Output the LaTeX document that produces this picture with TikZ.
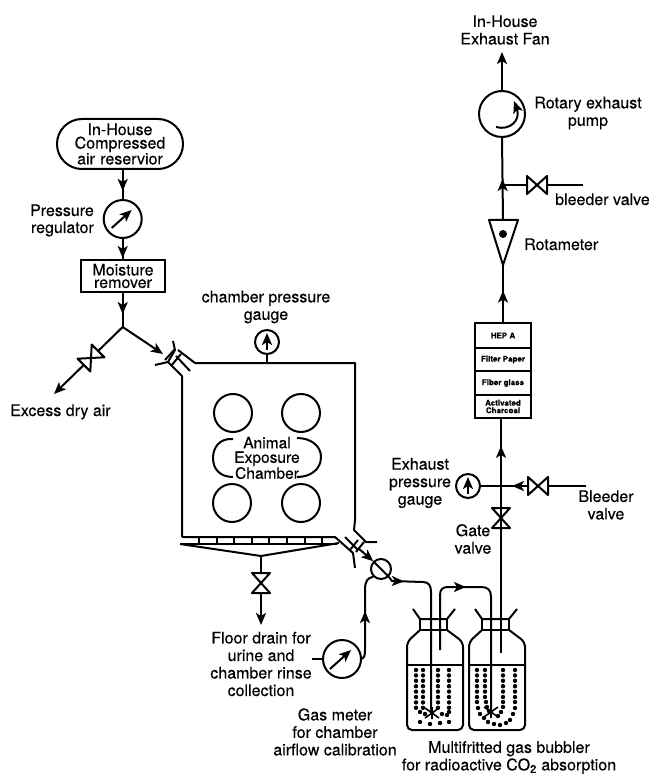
\documentclass[tikz,border=0pt]{standalone}
\usepackage{fontspec}
\setmainfont{TeX Gyre Heros}[FakeBold=0.25]
\usetikzlibrary{arrows.meta,shapes.misc,decorations.markings}
\tikzset{
  x=1pt,y=-1pt,
  pipe/.style={line width=2pt,line join=round},
  thin pipe/.style={line width=1.6pt,line join=round},
  tip/.style={-{Stealth[length=12pt,width=10pt,inset=3pt]}},
  midarrow/.style={postaction={decorate},decoration={markings,mark=at position #1 with {\arrow{Stealth[length=12pt,width=10pt,inset=3pt]}}}},
  lbl/.style={inner sep=0pt,align=center,font=\fontsize{16}{17.5}\selectfont},
  gauge/.style={circle,draw,line width=2pt,fill=white,inner sep=0pt,minimum size=#1},
  filt/.style={rectangle,draw,line width=2.3pt,fill=white,inner sep=0pt,minimum width=56pt,align=center,font=\fontsize{8}{7.5}\selectfont\bfseries},
  dotm/.style={fill=black,draw=none}
}
\newcommand{\vlv}[4]{\coordinate (#4) at (#1,#2);
  \begin{scope}[shift={(#1,#2)},rotate=#3]
  \draw[pipe,fill=white] (-10,-9)--(10,9)--(10,-9)--(-10,9)--cycle;
  \end{scope}}
\newcommand{\bottle}[1]{\begin{scope}[shift={(#1,0)}]
  \draw[pipe] (413,609)--(420,619)--(447,619)--(455,609);
  \draw[pipe] (420,619)--(420,630)--(447,630)--(447,619);
  \draw[pipe,rounded corners=5pt] (420,630)--(407,642)--(407,730)--(463,730)--(463,642)--(447,630);
  \draw[pipe] (407,665)--(463,665);
  \end{scope}}
\newcommand{\sprk}[2]{\draw[thin pipe] (#1-7,#2-5)--(#1+7,#2+5) (#1-7,#2+5)--(#1+7,#2-5) (#1,#2-6)--(#1,#2+6);}
\begin{document}
\begin{tikzpicture}
\useasboundingbox (0,0) rectangle (649,775);
% left feed
\node[rounded rectangle,draw,line width=2pt,minimum width=126pt,minimum height=50pt,inner sep=0pt,text width=100pt,align=center,font=\fontsize{16}{13.5}\selectfont] (res) at (120,144) {In-House\\Compressed\\air reservior};
\node[gauge=38pt] (reg) at (122.7,219) {};
\node[rectangle,draw,line width=2pt,minimum width=84pt,minimum height=32pt,inner sep=0pt,align=center,font=\fontsize{16}{12.5}\selectfont] (moist) at (123,276) {Moisture\\remover};
\coordinate (junc) at (122.7,327);
\draw[pipe,midarrow=0.72] (reg.north |- res.south) -- (reg.north);
\draw[pipe,tip] ([shift={(-11,9)}]reg.center) -- ([shift={(9,-9)}]reg.center);
\draw[pipe,midarrow=0.95] (reg.south) -- (reg.south |- moist.north);
\draw[pipe,midarrow=0.62] (reg.south |- moist.south) -- (junc);
\coordinate (xs) at (54,394);
\draw[pipe,tip] (junc) -- (xs);
\vlv{91}{358}{45}{xv}
\coordinate (cpl) at (163,354);
\draw[pipe,tip] (junc) -- (cpl);
\node[lbl,anchor=base east] (preg) at (94,216) {Pressure};
\node[lbl,anchor=base east] (preg2) at (94,233) {regulator};
\node[lbl,anchor=base west] (exc) at (10,416) {Excess dry air};
% chamber
\draw[pipe] (173,341)--(175,350)--(168,362)--(155,365);
\draw[pipe] (178,350)--(195,363)--(355,363)--(355,520)--(354,530)--(366,542)--(377,542);
\draw[pipe] (168,362)--(182,376)--(182,537);
\draw[pipe] (176,356)--(190,371);
\draw[pipe] (181,354)--(171,366) (175,349)--(165,360);
\node[gauge=24pt] (cpg) at (267,342) {};
\draw[pipe] (cpg.south) -- (cpg.south |- 0,363);
\draw[pipe,tip] ([yshift=-8pt]cpg.center) -- ([yshift=9pt]cpg.center);
\node[lbl] (cpgl) at (266,307) {chamber pressure\\gauge};
\foreach \n/\a/\b in {c1/233/413,c2/301/413,c3/232/503,c4/301/503}
  \node[gauge=38pt,fill=none] (\n) at (\a,\b) {};
\draw[pipe] (233,439) .. controls (220,438) and (213,447) .. (213,458) .. controls (213,469) and (220,477) .. (233,477);
\draw[pipe] (297,438) .. controls (311,438) and (321,446) .. (321,457) .. controls (321,469) and (311,477) .. (297,477);
\node[lbl,font=\fontsize{15.5}{14.5}\selectfont] (anim) at (267,458) {Animal\\Exposure\\Chamber};
% floor
\draw[pipe] (182,537)--(335,537)--(353,553)--(355,568);
\draw[pipe] (180,544)--(337,544);
\foreach \t in {199,217,234,252,269,287,305,322} \draw[thin pipe] (\t,537)--(\t,544);
\coordinate (fun) at (261,556);
\draw[pipe] (180,544)--(fun)--(339,543);
\draw[pipe,tip] (fun) -- (261,625);
\vlv{261}{583}{90}{fv}
\node[lbl] (fl) at (261,664) {Floor drain for\\urine and\\chamber rinse\\collection};
% outlet coupling
\draw[pipe] (345,537)--(358,550);
\draw[pipe] (358,540)--(350,550) (364,542)--(356,552);
\node[gauge=20pt,fill=white] (mix) at (381,569) {};
\draw[pipe,tip] (358,548) -- (mix.north west);
\draw[pipe] (mix.north west) -- (mix.south east);
\draw[pipe,midarrow=0.1] (mix.south east) -- (392,581) -- (423,582) .. controls (429,582) and (431,586) .. (431,592) -- (431,713);
\draw[pipe,midarrow=0.37] (440,650) -- (440,595) .. controls (440,589) and (443,587) .. (448,587) -- (481,587) .. controls (488,587) and (491,590) .. (491,597) -- (491,712);
% gas meter
\node[gauge=38pt] (gm) at (342,659) {};
\coordinate (gmstub) at (312,659);
\draw[pipe] (gmstub) -- (gm.west);
\draw[pipe,tip] ([shift={(-12,10)}]gm.center) -- ([shift={(9,-9)}]gm.center);
\draw[pipe,midarrow=0.56] (gm.east) .. controls (364,658) and (365,656) .. (365,650) -- (365,590) .. controls (365,580) and (368,578) .. (mix.south west);
\node[lbl] (gml) at (335,732) {Gas meter\\for chamber\\airflow calibration};
% bottles
\bottle{0}
\bottle{62}
\foreach \c in {416,423,438,449} \foreach \r in {670,675.4,...,708} \fill[dotm] (\c,\r) circle (2.2);
\foreach \p/\q in {420/722,430/724,440/723,449/722,420/712,425/714,442/714,447/715,449/712} \fill[dotm] (\p,\q) circle (2.2);
\foreach \c in {477,485,503,515} \foreach \r in {670,675.4,...,697} \fill[dotm] (\c,\r) circle (2.2);
\foreach \p/\q in {477/702,478/708,480/714,484/718,488/722,494/724,500/725,506/723,510/720,513/714,515/708,515/702,503/702,503/707,501/712,486/702,487/707,489/711,498/716} \fill[dotm] (\p,\q) circle (2.2);
\sprk{432}{713}
\sprk{491}{712}
\node[lbl] (bub) at (509,757.5) {Multifritted gas bubbler\\for radioactive CO\textsubscript{2} absorption};
% right column
\coordinate (bt) at (501,653);
\coordinate (ej) at (501,486);
\vlv{501}{518}{90}{gv}
\node[gauge=24pt] (epg) at (468,486) {};
\draw[pipe,tip] ([yshift=-8pt]epg.center) -- ([yshift=9pt]epg.center);
\draw[pipe] (bt) -- (gv);
\draw[pipe] (gv) -- (ej);
\draw[pipe] (epg.east) -- (ej);
\node[filt,minimum height=25pt] (f1) at (503,335.5) {HEP A};
\node[filt,minimum height=23pt] (f2) at (503,359.5) {Filter Paper};
\node[filt,minimum height=24pt] (f3) at (503,383) {Fiber glass};
\node[filt,minimum height=23pt] (f4) at (503,406.5) {Activated\\Charcoal};
\draw[pipe,midarrow=0.6] (ej) -- (ej |- f4.south);
\coordinate (bl) at (586,486);
\draw[pipe,midarrow=0.87] (bl) -- (ej);
\vlv{538}{486}{0}{bv}
\node[lbl] (ebl) at (420,483) {Exhaust\\pressure\\gauge};
\node[lbl] (bll) at (606,505) {Bleeder\\valve};
\node[lbl] (gvl) at (473,539) {Gate\\valve};
% rotameter
\coordinate (rt) at (503,220);
\coordinate (ra) at (503,265);
\draw[pipe,midarrow=0.55] (f1.north) -- (ra);
\draw[pipe] (489,220)--(518,220)--(ra)--cycle;
\fill (503,234) circle (4);
\node[lbl,anchor=base west] (rl) at (524,250) {Rotameter};
\node[gauge=46pt] (pump) at (502,114) {};
\draw[pipe,midarrow=0.5] (rt) -- (pump.south);
\draw[pipe,tip] (pump.north) -- (502,52);
\draw[pipe,tip] (496,127) .. controls (510,131) and (521,120) .. (514,101);
\coordinate (rb) at (583,185);
\draw[pipe] (502,185) -- (rb);
\vlv{537}{185}{0}{rv}
\node[lbl] (rot) at (588,113) {Rotary exhaust\\pump};
\node[lbl,anchor=base west] (blv) at (555,205) {bleeder valve};
\node[lbl] (fan) at (505,30) {In-House\\Exhaust Fan};
\end{tikzpicture}
\end{document}
